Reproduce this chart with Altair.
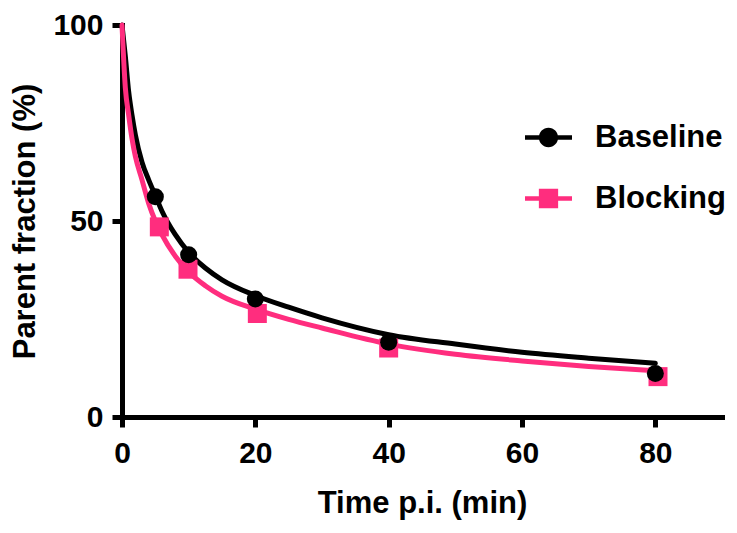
import altair as alt
import pandas as pd

# ---- data ----
series_names = ["Baseline", "Blocking"]
series_colors = ["#000000", "#FF2D7E"]

baseline_t = [5, 10, 20, 40, 80]
baseline_v = [56.2, 41.4, 30.1, 19.1, 11.1]
blocking_t = [5.6, 9.9, 20.3, 40, 80.4]
blocking_v = [48.5, 37.7, 26.4, 17.6, 10.3]

# fitted curves
baseline_curve_t = [0, 0.5, 1, 1.5, 2, 3, 4, 5, 6, 8, 10, 12.5, 15, 20, 25, 30, 40, 50, 60, 70, 80]
baseline_curve_v = [100, 92, 83, 77, 72, 65, 60.5, 56.5, 52.5, 46.5, 42, 38, 35, 31, 28, 25.3, 21.0, 18.6, 16.5, 15.0, 13.7]
blocking_curve_t = [0, 0.5, 1, 1.5, 2, 3, 4, 5, 6, 8, 10, 12.5, 15, 20, 25, 30, 40, 50, 60, 70, 80]
blocking_curve_v = [100, 84, 77, 71, 66.5, 60.5, 54.5, 50, 46.5, 41, 37, 33.5, 30.8, 27.5, 24.9, 22.7, 18.6, 16.0, 14.3, 12.9, 11.8]

x_ticks = [0, 20, 40, 60, 80]
y_ticks = [0, 50, 100]

pts = pd.DataFrame({
    "t": baseline_t + blocking_t,
    "v": baseline_v + blocking_v,
    "series": ["Baseline"] * len(baseline_t) + ["Blocking"] * len(blocking_t),
})
curves = pd.DataFrame({
    "t": baseline_curve_t + blocking_curve_t,
    "v": baseline_curve_v + blocking_curve_v,
    "series": ["Baseline"] * len(baseline_curve_t) + ["Blocking"] * len(blocking_curve_t),
    "order": list(range(len(baseline_curve_t))) + list(range(len(blocking_curve_t))),
})

FONT = "Liberation Sans"

x_enc = alt.X("t:Q", scale=alt.Scale(domain=[0, 90], nice=False),
              axis=alt.Axis(values=x_ticks, title="Time p.i. (min)", labelFlush=False,
                            labelPadding=11, titlePadding=20))
y_enc = alt.Y("v:Q", scale=alt.Scale(domain=[0, 100], nice=False),
              axis=alt.Axis(values=y_ticks, title="Parent fraction (%)", labelFlush=False,
                            labelPadding=9, titlePadding=11))

def color_enc(legend=None):
    return alt.Color("series:N",
                     scale=alt.Scale(domain=series_names, range=series_colors),
                     legend=legend)

lines = alt.Chart(curves).mark_line(strokeWidth=5, interpolate="monotone", strokeCap="round").encode(
    x=x_enc, y=y_enc, color=color_enc(), detail="series:N",
    order=alt.Order("order:Q"),
)

squares = alt.Chart(pts).transform_filter(alt.datum.series == "Blocking").mark_point(
    shape="square", filled=True, size=361, opacity=1).encode(
    x=x_enc, y=y_enc, color=color_enc())

circles = alt.Chart(pts).transform_filter(alt.datum.series == "Baseline").mark_point(
    shape="circle", filled=True, size=290, opacity=1).encode(
    x=x_enc, y=y_enc, color=color_enc())

# legend-only layer: symbols are a line with a marker on it
circ_path = ("M0.41,0 A0.41,0.41 0 1,1 -0.41,0 A0.41,0.41 0 1,1 0.41,0 Z "
             "M-1,-0.1 L-0.4,-0.1 L-0.4,0.1 L-1,0.1 Z "
             "M0.4,-0.1 L1,-0.1 L1,0.1 L0.4,0.1 Z")
sq_path = ("M-0.41,-0.41 L0.41,-0.41 L0.41,0.41 L-0.41,0.41 Z "
           "M-1,-0.1 L-0.41,-0.1 L-0.41,0.1 L-1,0.1 Z "
           "M0.41,-0.1 L1,-0.1 L1,0.1 L0.41,0.1 Z")

leg = alt.Legend(title=None, orient="none", legendX=403, legendY=89,
                 symbolSize=2209, symbolStrokeWidth=0, symbolOpacity=1,
                 labelFont=FONT, labelFontSize=31, labelFontWeight="bold",
                 labelColor="black", labelOffset=23, rowPadding=22, padding=0,
                 labelLimit=400)

legend_layer = alt.Chart(pts).transform_filter("false").mark_point(filled=True, opacity=1).encode(
    x=x_enc, y=y_enc,
    color=alt.Color("series:N", scale=alt.Scale(domain=series_names, range=series_colors), legend=leg),
    shape=alt.Shape("series:N", scale=alt.Scale(domain=series_names, range=[circ_path, sq_path]), legend=leg),
)

chart = alt.layer(lines, squares, circles, legend_layer).resolve_scale(
    color="independent", shape="independent"
).properties(
    width=600, height=392,
    autosize=alt.AutoSizeParams(type="none"),
    padding={"left": 114, "top": 17, "right": 7, "bottom": 116},
).configure_view(stroke=None).configure_axis(
    grid=False, domainColor="black", domainWidth=5, tickColor="black", tickWidth=5,
    tickSize=10, labelFont=FONT, labelFontSize=30, labelFontWeight="bold", labelColor="black",
    titleFont=FONT, titleFontSize=31, titleFontWeight="bold", titleColor="black",
    domainCap="square",
)

chart.save("out.html", embed_options={"renderer": "svg", "actions": False})
